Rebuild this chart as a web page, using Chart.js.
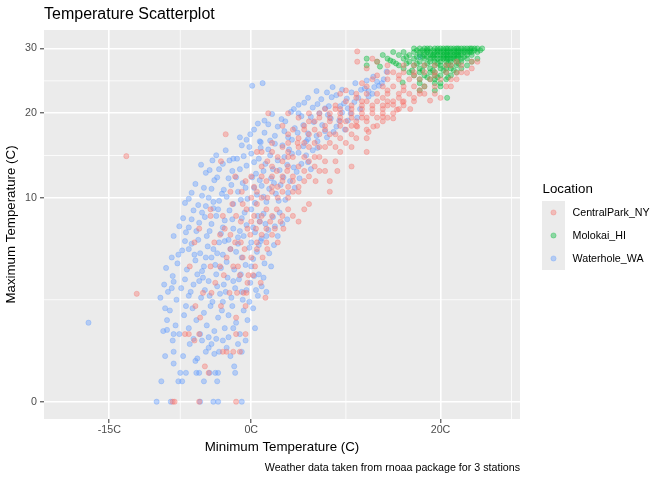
<!DOCTYPE html>
<html>
<head>
<meta charset="utf-8">
<title>Temperature Scatterplot</title>
<script src="https://cdn.jsdelivr.net/npm/chart.js@4.4.1/dist/chart.umd.min.js"></script>
<style>
  html, body { margin: 0; padding: 0; background: #fff; }
  canvas { display: block; }
</style>
</head>
<body>
<canvas id="chart" width="672" height="480"></canvas>
<script>
// Data (min temp C, max temp C)
const locations = ["CentralPark_NY", "Molokai_HI", "Waterhole_WA"];
const xTicks = [-15, 0, 20];
const xMinor = [-7.5, 10, 27.5];
const yTicks = [0, 10, 20, 30];
const yMinor = [2.5, 14.57, 24.75];

const centralParkPts = [
  [-8.3,0],[-8.1,0],[-5.5,0],[-1.6,0],[-4.9,0.3],[-4.5,0.2],[-6.0,0.9],
  [-7,1.1],[-6.6,1.1],[-5.5,1.1],[-1.6,1.1],[-0.6,1.1],[-3,0.6],[-2.6,0.6],[-1.9,0.6],[-1.2,0.6],
  [-5.4,1.7],[-1.6,1.7],[-5.9,2.2],[-3.2,2.2],[-0.6,2.2],[-5.1,2.85],[-4.2,2.85],[-2.3,2.85],
  [-1.5,2.85],[-0.8,2.85],[-0.5,2.85],[-0.4,3.4],[-1.2,3.85],[-0.3,3.85],[0.2,3.85],[1.0,3.4],[1.5,2.6],
  [-12.1,2.8],[-13.2,14.5],
  [-6.5,4.4],[-4.3,4.4],[-3.3,4.4],[-1.4,4.4],[0.4,4.4],[1.2,5.0],[-2.6,5.0],[-0.7,5.6],[0.6,5.6],
  [1.7,5.6],[-6.0,6.1],[-3.9,6.1],[-1.7,6.1],[-0.1,6.7],[1.1,6.7],[2.2,6.7],[-5.5,7.2],[-2.8,7.2],
  [-0.4,7.2],[0.9,7.8],[2.0,7.8],[3.1,7.8],[-4.3,8.3],[-1.6,8.3],[0.3,8.3],[1.6,8.9],[2.7,8.9],
  [3.9,8.9],[-4.3,8.9],[-2.0,9.4],[4.4,8.3],[2.8,6.1],[3.4,7.2],
  [-0.9,9.4],[0.6,9.4],[1.7,10.0],[2.8,10.0],[3.9,10.0],[5.0,10.6],[-1.0,10.6],[0.3,11.1],[2.2,11.1],
  [3.3,11.7],[4.4,11.7],[5.6,11.7],[6.1,12.2],[1.1,12.2],[2.7,12.8],[3.8,12.8],[5.0,13.3],[6.7,13.3],
  [-3.2,13.9],[1.7,13.9],[3.3,13.9],[4.4,14.4],[5.6,14.4],[7.2,14.4],[0.6,15.0],[2.2,15.0],[3.9,15.0],
  [6.1,15.6],[7.8,15.6],[8.9,15.6],[4.9,16.1],[6.7,16.1],[8.3,16.1],[10.0,16.1],[4.4,10.6],[7.2,12.8],
  [9.4,15.0],[8.3,10.6],[8.3,11.7],[6.8,11.7],[10.6,13.3],[9.1,12.8],[7.8,12.8],[6.1,9.4],[12.2,15.0],
  [8.9,13.9],[5.6,8.9],[5.0,7.8],
  [-2.7,17.2],[1.8,20.0],[3.9,20.0],[5.0,16.7],[6.1,17.2],[7.2,17.2],[8.9,17.2],[10.6,17.2],[5.6,17.8],
  [7.8,17.8],[9.4,18.3],[11.1,18.3],[6.7,18.9],[8.3,18.9],[10.0,18.9],[12.2,18.9],[5.0,19.4],[7.2,19.4],
  [9.4,19.4],[11.7,19.4],[13.3,19.4],[6.1,20.0],[8.3,20.0],[10.6,20.0],[12.8,20.0],[7.8,20.6],[9.4,20.6],
  [11.7,20.6],[13.9,20.6],[8.9,21.1],[10.6,21.1],[12.8,21.1],[14.4,21.1],[10.0,21.7],[11.7,21.7],
  [13.3,21.7],[15.0,21.7],[16.1,21.7],[12.2,16.7],[13.3,18.3],[12.4,17.5],[11.2,18.2],[15.0,19.3],
  [11.2,29.5],[11.2,27.8],[13.3,27.8],[23.9,27.8],[21.7,26.0],[22.8,26.0],[12.2,22.8],[13.3,22.8],
  [14.4,22.8],[15.6,22.8],[16.7,22.8],[17.8,22.8],[13.9,23.9],[15.0,23.9],[16.1,23.9],[17.2,23.9],
  [18.3,23.9],[19.4,23.9],[20.6,23.9],[14.4,25.0],[15.6,25.0],[16.7,25.0],[17.8,25.0],[18.9,25.0],
  [20.0,25.0],[21.1,25.0],[12.8,25.0],[15.0,26.1],[16.1,26.1],[18.3,26.1],[19.4,26.1],[20.6,26.1],
  [17.2,27.2],[19.4,27.2],[21.1,27.2],[22.2,27.2],[16.0,21.6],[16.8,20.6],[15.0,21.2],[13.9,19.5],
  [12.9,18.2],[15.4,20.5],[18.9,21.8],[20.0,22.2],[17.2,22.2],[11.1,22.2],[10.0,23.3],[11.7,24.4],
  [12.2,26.7],[14.4,27.2],[23.3,26.7],[9.4,22.8],
  [-3.8,3.4],[-2.9,3.85],[-1.9,4.4],[-0.9,5.0],[0.0,5.0],[-2.2,5.6],[-1.1,6.1],[0.6,6.1],[1.6,6.1],
  [-3.3,6.7],[-2.2,6.7],[0.5,7.2],[1.6,7.2],[-1.1,7.8],[0.0,7.8],[2.5,7.2],[-3.0,8.3],[-0.5,8.9],
  [1.1,8.3],[2.2,8.3],[3.3,8.3],[0.0,10.0],[1.1,10.0],[-2.2,10.6],[0.6,10.6],[2.2,10.6],[3.3,10.6],
  [-0.6,11.7],[1.6,11.7],[2.8,11.1],[3.9,11.1],[5.0,11.1],[-1.7,12.2],[0.0,12.2],[2.2,12.2],[3.3,12.2],
  [4.4,12.2],[5.6,12.8],[1.1,13.3],[2.2,13.3],[3.9,13.3],[6.1,13.9],[7.8,13.9],[2.8,14.4],[3.9,14.4],
  [6.7,14.4],[1.1,15.0],[3.3,15.6],[5.0,15.6],[7.2,15.6],[10.6,15.6],[2.2,16.1],[3.9,16.1],[5.6,16.1],
  [9.4,16.7],[11.1,16.7],[3.9,17.2],[8.3,17.2],[4.4,17.8],[6.7,17.8],[10.0,17.8],[12.2,17.8],[3.3,18.3],
  [5.6,18.3],[7.8,18.3],[10.6,18.3],[6.1,18.9],[9.4,18.9],[11.1,18.9],[13.9,18.9],[8.3,19.4],[10.6,19.4],
  [12.2,19.4],[14.4,19.4],[7.2,20.0],[9.4,20.0],[11.7,20.0],[13.9,20.0],[15.0,20.0],[8.9,20.6],
  [10.6,20.6],[12.8,20.6],[15.6,20.6],[11.7,21.1],[13.9,21.1],[16.1,21.1],[12.2,21.7],[14.4,21.7],
  [17.2,21.7],[11.1,22.8],[13.9,22.2],[15.6,22.2],[18.3,22.8],[12.2,23.9],[14.4,23.3],[16.1,23.3],
  [17.8,23.3],[19.4,22.8],[21.1,23.9],[13.3,25.6],[15.6,25.6],[17.2,25.6],[19.4,25.6],[21.7,25.0],
  [14.4,26.1],[17.2,26.1],[22.2,26.1],[16.1,27.2],[18.3,27.2],[20.6,27.2],[23.3,27.8],[12.8,28.3],[21.7,27.8]
];

const molokaiPts = [
  [17.2,30.0],[17.8,30.0],[18.3,30.0],[18.9,30.0],[19.4,30.0],[20.0,30.0],[20.6,30.0],[21.1,30.0],
  [21.7,30.0],[22.2,30.0],[22.8,30.0],[23.3,30.0],[23.9,30.0],[24.4,30.0],
  [15.0,29.4],[16.1,29.4],[17.2,29.4],[17.8,29.4],[18.3,29.4],[18.9,29.4],[19.4,29.4],[20.0,29.4],
  [20.6,29.4],[21.1,29.4],[21.7,29.4],[22.2,29.4],[22.8,29.4],[23.3,29.4],[23.9,29.4],
  [13.9,28.9],[15.6,28.9],[16.7,28.9],[17.8,28.9],[18.3,28.9],[18.9,28.9],[19.4,28.9],[20.0,28.9],
  [20.6,28.9],[21.1,28.9],[21.7,28.9],[22.2,28.9],[22.8,28.9],[23.3,28.9],
  [12.2,28.3],[14.4,28.3],[16.1,28.3],[17.2,28.3],[18.3,28.3],[18.9,28.3],[19.4,28.3],[20.0,28.3],
  [20.6,28.3],[21.1,28.3],[21.7,28.3],[22.2,28.3],[22.8,28.3],[23.9,28.3],
  [13.3,27.8],[15.0,27.8],[16.7,27.8],[17.8,27.8],[18.9,27.8],[19.4,27.8],[20.0,27.8],[20.6,27.8],
  [21.1,27.8],[21.7,27.8],[22.2,27.8],[23.3,27.8],
  [12.2,27.2],[15.6,27.2],[17.2,27.2],[18.3,27.2],[19.4,27.2],[20.0,27.2],[20.6,27.2],[21.1,27.2],
  [21.7,27.2],[22.8,27.2],
  [16.1,26.7],[17.8,26.7],[18.9,26.7],[20.0,26.7],[20.6,26.7],[21.1,26.7],[22.2,26.7],
  [16.7,26.1],[17.8,26.1],[18.9,26.1],[19.4,26.1],[20.6,26.1],[21.7,26.1],
  [17.2,25.6],[18.3,25.6],[19.4,25.6],[20.0,25.6],[21.1,25.6],
  [17.8,25.0],[18.9,25.0],[19.4,25.0],[20.6,25.0],
  [17.8,24.4],[19.4,24.4],[20.0,24.4],[18.3,23.9],[20.0,23.9],[17.8,23.3],[19.4,23.3],[20.7,22.2],
  [18.6,30.0],[19.7,30.0],[20.3,30.0],[20.8,30.0],[21.4,30.0],[21.9,30.0],[22.5,30.0],[23.1,30.0],[23.6,30.0],
  [18.6,29.4],[19.7,29.4],[20.3,29.4],[20.8,29.4],[21.4,29.4],[21.9,29.4],[22.5,29.4],[23.1,29.4],
  [19.2,28.9],[19.7,28.9],[20.3,28.9],[20.8,28.9],[21.4,28.9],[21.9,28.9],
  [19.7,28.3],[20.3,28.3],[20.8,28.3],[21.4,28.3],
  [17.5,29.7],[18.1,29.7],[18.6,29.7],[19.2,29.7],[19.7,29.7],[20.3,29.7],[20.8,29.7],[21.4,29.7],
  [21.9,29.7],[22.5,29.7],[23.1,29.7],[23.6,29.7],[24.2,29.7],
  [16.4,28.6],[17.5,28.6],[18.1,28.6],[18.6,28.6],[19.2,28.6],[20.3,28.6],[20.8,28.6],[21.4,28.6],
  [21.9,28.6],[22.5,28.6],
  [15.3,27.5],[16.4,27.5],[17.5,27.5],[18.6,27.5],[19.7,27.5],[20.8,27.5],[21.9,27.5],
  [17.0,26.4],[18.1,26.4],[19.2,26.4],[20.3,26.4],[21.4,26.4],
  [18.6,25.3],[19.7,25.3],[20.8,25.3],[14.7,28.0],[13.6,27.0],[16.0,24.5]
];

const waterholePts = [
  [-10,0],[-8.5,0],[-5.4,0],[-4.0,0],[-3.5,0],[-1.0,0],
  [-9.5,0.1],[-7.7,0.1],[-7.3,0.1],[-5.0,0.1],[-3.6,0.1],
  [-7.5,0.2],[-6.9,0.2],[-5.8,0.2],[-5.5,0.2],[-4.4,0.2],[-3.8,0.2],[-3.5,0.2],[-1.7,0.2],
  [-9.1,0.5],[-8.2,0.35],[-7.2,0.5],[-6.5,0.8],[-5.9,0.4],[-5.7,0.45],[-5.2,0.9],[-4.8,0.6],[-4.5,0.7],
  [-4.2,0.8],[-3.9,0.55],[-3.4,0.6],[-3.0,0.9],[-2.6,0.7],[-2.2,0.5],[-1.8,0.3],[-1.4,0.8],[-1.0,0.6],
  [-0.6,0.9],[-6.1,0.95],[-3.7,0.95],[-2.4,1.0],[-8.3,0.9],[-8.2,0.6],
  [-9.3,1.2],[-8.9,1.6],[-8.6,2.0],[-8.0,1.4],[-7.6,1.1],[-7.1,1.8],[-6.6,1.3],[-6.2,2.1],[-5.8,1.6],
  [-5.4,1.1],[-5.0,1.9],[-4.7,1.4],[-4.3,2.2],[-3.9,1.2],[-3.5,1.7],[-3.1,2.0],[-2.8,1.3],[-2.4,1.8],
  [-2.0,2.2],[-1.6,1.5],[-1.2,1.1],[-0.8,2.0],[-0.4,1.6],[0.2,2.1],[-6.9,2.2],[-4.5,1.0],[-1.9,1.3],
  [0.4,1.3],[-8.9,1.24],[-8.2,1.1],[-17.2,1.5],
  [-9.6,2.6],[-9.2,3.3],[-8.8,2.9],[-8.3,3.8],[-7.9,2.5],[-7.4,3.1],[-7.0,3.6],[-6.6,2.7],[-6.1,3.3],
  [-5.7,3.9],[-5.3,2.6],[-4.9,3.0],[-4.5,3.5],[-4.1,2.4],[-3.7,3.9],[-3.3,2.8],[-2.9,3.3],[-2.5,3.7],
  [-2.1,2.6],[-1.7,3.1],[-1.3,3.6],[-0.9,2.5],[-0.5,3.0],[-0.1,3.4],[0.3,3.8],[0.7,2.7],[1.1,3.2],
  [-5.5,3.5],[-3.0,2.4],[-1.1,3.9],[0.8,3.9],[-8.2,3.46],[-8.4,3.1],[-9.1,2.1],
  [-9.0,4.3],[-8.4,5.0],[-7.8,4.6],[-7.3,5.5],[-6.8,4.2],[-6.3,6.0],[-5.9,4.8],[-5.4,5.3],[-5.0,4.4],
  [-4.6,5.8],[-4.2,5.0],[-3.8,4.5],[-3.4,6.1],[-3.0,5.2],[-2.6,4.7],[-2.2,5.6],[-1.8,4.2],[-1.4,6.0],
  [-1.0,5.0],[-0.6,4.5],[-0.2,5.7],[0.2,4.9],[0.6,5.4],[1.0,6.2],[1.4,4.6],[1.9,5.3],[2.4,5.9],
  [-7.0,6.2],[-2.8,6.2],[0.0,6.1],[-5.2,4.1],
  [-8.2,6.6],[-7.6,7.4],[-6.9,6.9],[-6.3,8.0],[-5.8,7.0],[-5.2,8.6],[-4.7,6.6],[-4.2,7.6],[-3.7,8.3],
  [-3.2,6.8],[-2.8,7.9],[-2.3,8.8],[-1.9,7.2],[-1.4,6.5],[-1.0,8.1],[-0.5,7.5],[0.0,8.9],[0.4,6.9],
  [0.9,7.8],[1.3,8.5],[1.8,7.1],[2.3,8.2],[2.8,6.6],[3.3,7.6],[-6.1,8.8],[-3.5,8.9],[1.1,6.4],[-4.0,9.0],
  [-7.0,9.5],[-6.3,10.5],[-5.6,9.3],[-5.0,11.0],[-4.5,10.0],[-3.9,11.8],[-3.4,9.7],[-2.9,10.8],
  [-2.4,12.0],[-1.9,9.4],[-1.4,10.6],[-0.9,11.5],[-0.4,9.9],[0.1,12.1],[0.6,10.3],[1.1,11.2],[1.6,9.6],
  [2.1,12.0],[2.6,10.4],[3.1,11.3],[3.6,9.8],[4.1,11.7],[-2.6,10.1],[0.3,11.0],[1.9,10.9],[-4.8,9.2],
  [-4.8,12.6],[-4.1,14.0],[-3.4,13.0],[-2.7,15.2],[-2.0,12.8],[-1.5,14.2],[-1.0,15.8],[-0.5,13.4],
  [0.0,14.8],[0.5,12.5],[1.0,15.5],[1.5,13.6],[2.0,14.6],[2.5,16.0],[3.0,12.9],[3.5,14.4],[4.0,15.3],
  [4.5,13.2],[5.0,14.9],[5.5,15.7],[6.0,13.8],[-1.9,14.2],[2.3,13.0],[6.5,15.2],
  [-0.5,16.5],[0.3,17.8],[1.0,16.2],[1.8,18.5],[2.5,17.0],[3.2,19.2],[3.9,16.8],[4.6,18.0],[5.3,19.6],
  [6.0,17.3],[6.6,18.8],[7.2,20.0],[7.8,17.6],[8.4,19.3],[9.0,18.2],[9.6,20.1],[10.2,19.0],[4.2,20.2],
  [5.8,16.3],[8.0,16.8],[2.2,19.9],[1.4,19.0],
  [4.5,20.6],[5.6,21.5],[6.5,20.8],[7.4,22.0],[8.2,21.0],[9.0,22.6],[9.8,21.4],[10.6,23.0],[11.3,22.2],
  [12.0,23.6],[12.8,22.8],[13.5,24.0],[11.0,24.4],[8.6,23.8],[0.1,24.0],[1.2,24.4],[14.0,25.0],
  [10.2,20.7],[12.9,25.4],[14.3,26.2],[13.3,24.6],[17.8,28.6],[12.4,23.2],
  [-6.4,2.9],[-5.1,3.7],[-4.4,2.7],[-3.6,3.2],[-2.7,2.9],[-1.9,3.5],[-1.0,2.9],[-0.2,2.4],[0.5,3.0],
  [1.3,3.7],[1.6,2.9],
  [-7.7,5.2],[-6.6,5.6],[-5.6,6.3],[-4.8,5.0],[-4.0,5.6],[-3.2,4.3],[-2.4,6.3],[-1.6,5.4],[-0.8,6.6],
  [0.0,4.4],[0.8,5.9],[1.6,6.6],[2.1,4.4],[-6.0,5.2],[-3.6,5.3],
  [-7.2,8.1],[-6.6,7.3],[-5.5,7.7],[-4.9,8.2],[-4.4,7.0],[-3.0,7.3],[-2.0,8.0],[-1.2,7.0],[-0.7,8.6],
  [0.2,7.3],[0.7,8.3],[1.5,7.6],[2.5,7.4],[3.0,8.6],[3.8,8.0],
  [-6.6,9.9],[-5.9,11.4],[-5.2,10.2],[-4.2,10.9],[-3.6,12.1],[-3.1,10.4],[-2.1,11.3],[-1.6,12.1],
  [-1.1,9.8],[-0.6,11.0],[0.4,9.5],[0.9,11.8],[1.3,10.1],[2.4,11.5],[2.9,9.7],[3.4,12.1],[3.9,10.5],
  [4.6,11.0],[5.1,12.0],[-4.0,9.6],
  [-5.3,13.5],[-4.4,12.9],[-3.7,14.6],[-3.0,13.6],[-2.3,14.0],[-1.2,13.0],[-0.8,14.5],[-0.2,15.6],
  [0.3,13.8],[0.8,14.2],[1.3,12.8],[1.8,15.3],[2.8,14.0],[3.3,15.8],[3.8,13.5],[4.3,14.8],[4.8,12.7],
  [5.3,13.6],[5.8,14.6],[6.3,13.0],[7.0,15.5],
  [-1.2,16.8],[-0.1,17.2],[0.7,18.6],[1.4,17.4],[2.0,16.4],[2.8,18.2],[3.5,17.6],[4.3,16.5],[4.9,17.4],
  [5.5,18.4],[6.3,19.5],[6.9,17.0],[7.5,18.4],[8.1,19.8],[8.7,17.5],[9.3,19.0],[9.9,17.8],[10.5,20.0],
  [11.2,19.4],[3.6,18.9],[5.0,20.0],[6.0,16.6],[7.0,16.3],[0.9,16.3],
  [5.0,21.2],[6.0,22.2],[7.0,21.3],[7.8,20.7],[8.5,22.3],[9.4,21.0],[10.1,22.1],[10.9,21.6],[11.6,23.4],
  [12.4,22.4],[13.0,23.8],[11.5,20.6],[9.6,23.4],[12.2,24.8],[13.8,24.4],[6.9,23.2],[8.0,23.0]
];

const colors = ["#F8766D", "#00BA38", "#619CFF"];
const FONT = "'Liberation Sans', Arial, Helvetica, sans-serif";

function alpha(hex, a) {
  const n = parseInt(hex.slice(1), 16);
  return `rgba(${(n >> 16) & 255}, ${(n >> 8) & 255}, ${n & 255}, ${a})`;
}

// 1. Square-root scale (ggplot scale_y_sqrt)
const sq = (v) => Math.sign(v) * Math.sqrt(Math.abs(v));
class SqrtScale extends Chart.LinearScale {
  buildTicks() {
    return yTicks.map((v) => ({ value: v }));
  }
  configure() {
    super.configure();
    this._sMin = sq(this.min);
    this._sMax = sq(this.max);
  }
  getPixelForValue(value) {
    return this.getPixelForDecimal((sq(value) - this._sMin) / (this._sMax - this._sMin));
  }
  getValueForPixel(pixel) {
    const s = this._sMin + this.getDecimalForPixel(pixel) * (this._sMax - this._sMin);
    return Math.sign(s) * s * s;
  }
}
SqrtScale.id = "sqrt";
SqrtScale.defaults = Chart.LinearScale.defaults;
Chart.register(SqrtScale);

// 2. Panel background, minor grid, titles and legend
const ggPlugin = {
  id: "ggDecor",
  beforeDraw(chart) {
    const { ctx, chartArea: a, scales } = chart;
    ctx.save();
    ctx.fillStyle = "#EBEBEB";
    ctx.fillRect(a.left, a.top, a.right - a.left, a.bottom - a.top);
    ctx.strokeStyle = "#FFFFFF";
    ctx.lineWidth = 0.8;
    xMinor.forEach((v) => {
      const px = scales.x.getPixelForValue(v);
      ctx.beginPath(); ctx.moveTo(px, a.top); ctx.lineTo(px, a.bottom); ctx.stroke();
    });
    yMinor.forEach((v) => {
      const py = scales.y.getPixelForValue(v);
      ctx.beginPath(); ctx.moveTo(a.left, py); ctx.lineTo(a.right, py); ctx.stroke();
    });
    ctx.restore();
  },
  afterDraw(chart) {
    const { ctx, chartArea: a } = chart;
    ctx.save();
    ctx.fillStyle = "#000";
    ctx.textBaseline = "alphabetic";
    ctx.font = `16px ${FONT}`;
    ctx.textAlign = "left";
    ctx.fillText("Temperature Scatterplot", a.left, 18.5);

    ctx.font = `10.7px ${FONT}`;
    ctx.textAlign = "right";
    ctx.fillText("Weather data taken from rnoaa package for 3 stations", a.right, 471);

    // legend
    ctx.textAlign = "left";
    ctx.font = `13.3px ${FONT}`;
    ctx.fillText("Location", 542.5, 193);
    ctx.font = `10.7px ${FONT}`;
    locations.forEach((name, i) => {
      const top = 201 + i * 23;
      ctx.fillStyle = "#EBEBEB";
      ctx.fillRect(542, top, 23, 23);
      ctx.beginPath();
      ctx.arc(553.5, top + 11.5, 2.6, 0, Math.PI * 2);
      ctx.fillStyle = alpha(colors[i], 0.4);
      ctx.fill();
      ctx.lineWidth = 0.8;
      ctx.strokeStyle = alpha(colors[i], 0.4);
      ctx.stroke();
      ctx.fillStyle = "#000";
      ctx.fillText(name, 572.5, top + 15.3);
    });
    ctx.restore();
  },
};

const toXY = (pts) => pts.map(([x, y]) => ({ x, y }));
const series = [centralParkPts, molokaiPts, waterholePts];

// 3. Chart
new Chart(document.getElementById("chart"), {
  type: "scatter",
  data: {
    datasets: locations.map((name, i) => ({
      label: name,
      data: toXY(series[i]),
      backgroundColor: alpha(colors[i], 0.4),
      borderColor: alpha(colors[i], 0.4),
      borderWidth: 0.8,
      pointRadius: 2.6,
      pointHoverRadius: 2.6,
    })),
  },
  options: {
    responsive: false,
    animation: false,
    events: [],
    layout: { padding: { top: 30, right: 152, left: 0, bottom: 0 } },
    plugins: {
      legend: { display: false },
      title: { display: false },
      tooltip: { enabled: false },
    },
    scales: {
      x: {
        type: "linear",
        min: -21.9,
        max: 28.4,
        afterBuildTicks: (s) => { s.ticks = xTicks.map((v) => ({ value: v })); },
        afterFit: (s) => { s.height = 61; },
        border: { display: false },
        grid: { color: "#FFFFFF", lineWidth: 1.6, tickColor: "#333333", tickLength: 4, tickWidth: 1 },
        ticks: {
          color: "#4D4D4D",
          font: { family: FONT, size: 10.7 },
          padding: 1,
          maxRotation: 0,
          callback: (v) => v + "C",
        },
        title: {
          display: true,
          text: "Minimum Temperature (C)",
          color: "#000",
          font: { family: FONT, size: 13.3 },
          padding: { top: 0, bottom: 24.7 },
        },
      },
      y: {
        type: "sqrt",
        min: -0.072,
        max: 33.22,
        afterFit: (s) => { s.width = 44; },
        border: { display: false },
        grid: { color: "#FFFFFF", lineWidth: 1.6, tickColor: "#333333", tickLength: 4, tickWidth: 1 },
        ticks: {
          color: "#4D4D4D",
          font: { family: FONT, size: 10.7 },
          padding: 3,
          callback: (v) => String(v),
        },
        title: {
          display: true,
          text: "Maximum Temperature (C)",
          color: "#000",
          font: { family: FONT, size: 13.3 },
          padding: { top: 3.7, bottom: 0 },
        },
      },
    },
  },
  plugins: [ggPlugin],
});
</script>
</body>
</html>
